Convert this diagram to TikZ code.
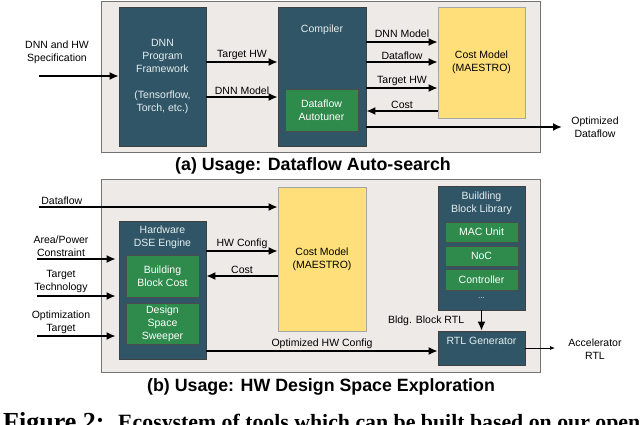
\documentclass[tikz,border=0pt]{standalone}
\usepackage{fontspec}
\setmainfont{Liberation Sans}
\newfontfamily\capfont{Liberation Serif}
\usepackage{xcolor}
\usepackage{tikz}
\usetikzlibrary{arrows.meta, positioning, calc}

\definecolor{tealbg}{HTML}{2F5566}
\definecolor{greenbg}{HTML}{2E8B4C}
\definecolor{costbg}{HTML}{FFDF7A}
\definecolor{panelbg}{HTML}{EEEAE7}
\definecolor{boxtxt}{HTML}{E6EEF0}

\tikzset{
  panel/.style={draw=black!55, fill=panelbg, line width=0.8pt},
  tealbox/.style={draw=black!75, fill=tealbg, text=boxtxt, align=center, inner sep=0pt, line width=0.6pt},
  greenbox/.style={draw=black!70, fill=greenbg, text=white, align=center, inner sep=0pt, line width=0.6pt},
  costbox/.style={draw=black!35, fill=costbg, align=center, inner sep=0pt, line width=0.6pt},
  txt/.style={align=center, inner sep=1.5pt},
  flow/.style={line width=1.8pt, -{Latex[length=9pt,width=8pt]}},
  thinflow/.style={line width=0.8pt, -{Latex[length=5pt,width=4pt]}},
  paneltitle/.style={font=\bfseries\fontsize{17.8}{20}\selectfont},
}

\begin{document}
\begin{tikzpicture}[x=1pt, y=-1pt, every node/.append style={font=\fontsize{10.5}{13}\selectfont}]
\useasboundingbox (0,0) rectangle (640,424);
\clip (0,0) rectangle (640,424);

% (a) dataflow auto-search
\draw[panel] (101,1) rectangle (540,152);
\node[tealbox, minimum width=87pt, minimum height=139pt] (dnn) at (162.5,76.5) {DNN\\Program\\Framework\\[13pt](Tensorflow,\\Torch, etc.)};
\node[tealbox, minimum width=88pt, minimum height=139pt] (comp) at (322,76.5) {};
\node[txt, text=boxtxt] (complbl) at (322,30) {Compiler};
\node[greenbox, minimum width=73pt, minimum height=42pt] (tuner) at (321.5,110) {Dataflow\\Autotuner};
\node[costbox, minimum width=87pt, minimum height=111pt] (costa) at (481.5,62.5) {Cost Model\\(MAESTRO)};

\coordinate (specin) at (39,76);
\node[txt] (spec) at (57,52.5) {DNN and HW\\Specification};
\draw[flow] (specin) -- (specin -| dnn.west);
\draw[flow] (dnn.east |- 0,62) -- node[txt, above] {Target HW} (comp.west |- 0,62);
\draw[flow] (dnn.east |- 0,97) -- node[txt, above] {DNN Model} (comp.west |- 0,97);

\draw[flow] (comp.east |- 0,42) -- node[txt, above=2pt] {DNN Model} (costa.west |- 0,42);
\draw[flow] (comp.east |- 0,62) -- node[txt, above] {Dataflow} (costa.west |- 0,62);
\draw[flow] (comp.east |- 0,88) -- node[txt, above] {Target HW} (costa.west |- 0,88);
\draw[flow] (costa.west |- 0,111) -- node[txt, above] {Cost} (comp.east |- 0,111);

\coordinate (optout) at (562,127);
\draw[flow] (comp.east |- optout) -- (optout);
\node[txt] (optlbl) at (595,127) {Optimized\\Dataflow};

\node[paneltitle] (titlea) at (313,166) {(a) Usage: Dataflow Auto-search};

% (b) hw design space exploration
\draw[panel] (101,179) rectangle (540,372);
\node[costbox, minimum width=88pt, minimum height=144pt] (costb) at (322,259) {Cost Model\\(MAESTRO)};
\node[tealbox, minimum width=87pt, minimum height=138pt] (dse) at (162.5,290) {};
\node[txt, text=boxtxt] (dselbl) at (162.5,237.5) {Hardware\\DSE Engine};
\node[greenbox, minimum width=73pt, minimum height=42pt] (bbcost) at (162.5,276) {Building\\Block Cost};
\node[greenbox, minimum width=73pt, minimum height=41pt] (sweep) at (162.5,323.5) {Design\\Space\\Sweeper};

\node[tealbox, minimum width=87pt, minimum height=124pt] (lib) at (481.5,248) {};
\node[txt, text=boxtxt] (liblbl) at (481.5,203) {Buildling\\Block Library};
\node[greenbox, minimum width=73pt, minimum height=20pt] (mac) at (481.5,232) {MAC Unit};
\node[greenbox, minimum width=73pt, minimum height=20pt] (noc) at (481.5,256) {NoC};
\node[greenbox, minimum width=73pt, minimum height=21pt] (ctrl) at (481.5,279.5) {Controller};
\node[txt, text=boxtxt, font=\fontsize{8}{9}\selectfont] (more) at (481.5,298) {...};
\node[tealbox, minimum width=87pt, minimum height=34pt] (rtl) at (481.5,348) {};
\node[txt, text=boxtxt] (rtllbl) at (481.5,341) {RTL Generator};

\coordinate (dfin) at (39,207);
\draw[flow] (dfin) node[txt, above right] {Dataflow} -- (dfin -| costb.west);

\coordinate (areain) at (37,259);
\coordinate (techin) at (37,296);
\coordinate (optin) at (37,336);
\node[txt] (arealbl) at (61,246) {Area/Power\\Constraint};
\node[txt] (techlbl) at (61,281.5) {Target\\Technology};
\node[txt] (optinlbl) at (61,322) {Optimization\\Target};
\draw[flow, shorten >=3pt] (areain) -- (areain -| dse.west);
\draw[flow, shorten >=3pt] (techin) -- (techin -| dse.west);
\draw[flow, shorten >=3pt] (optin) -- (optin -| dse.west);

\draw[flow] (dse.east |- 0,251) -- node[txt, above] {HW Config} (costb.west |- 0,251);
\draw[flow] (costb.west |- 0,276) -- node[txt, above] {Cost} (dse.east |- 0,276);
\draw[flow] (dse.east |- 0,351) -- node[txt, above] {Optimized HW Config} (rtl.west |- 0,351);
\draw[flow] (lib.south) -- node[txt, left=15pt] {Bldg. Block RTL} (rtl.north);

\coordinate (accout) at (555,348);
\draw[thinflow] (rtl.east) -- (accout);
\node[txt] (acclbl) at (595,349.5) {Accelerator\\RTL};

\node[paneltitle] (titleb) at (321,387) {(b) Usage: HW Design Space Exploration};

% caption, cut off at the page edge
\node[anchor=base west, inner sep=0pt, font=\capfont\bfseries\fontsize{26}{26}\selectfont] (figno) at (3,430) {Figure 2:};
\node[anchor=base west, inner sep=0pt, font=\capfont\bfseries\fontsize{21.8}{22}\selectfont] (figcap) at (118,429) {Ecosystem of tools which can be built based on our open-source infrastructure};
\end{tikzpicture}
\end{document}
